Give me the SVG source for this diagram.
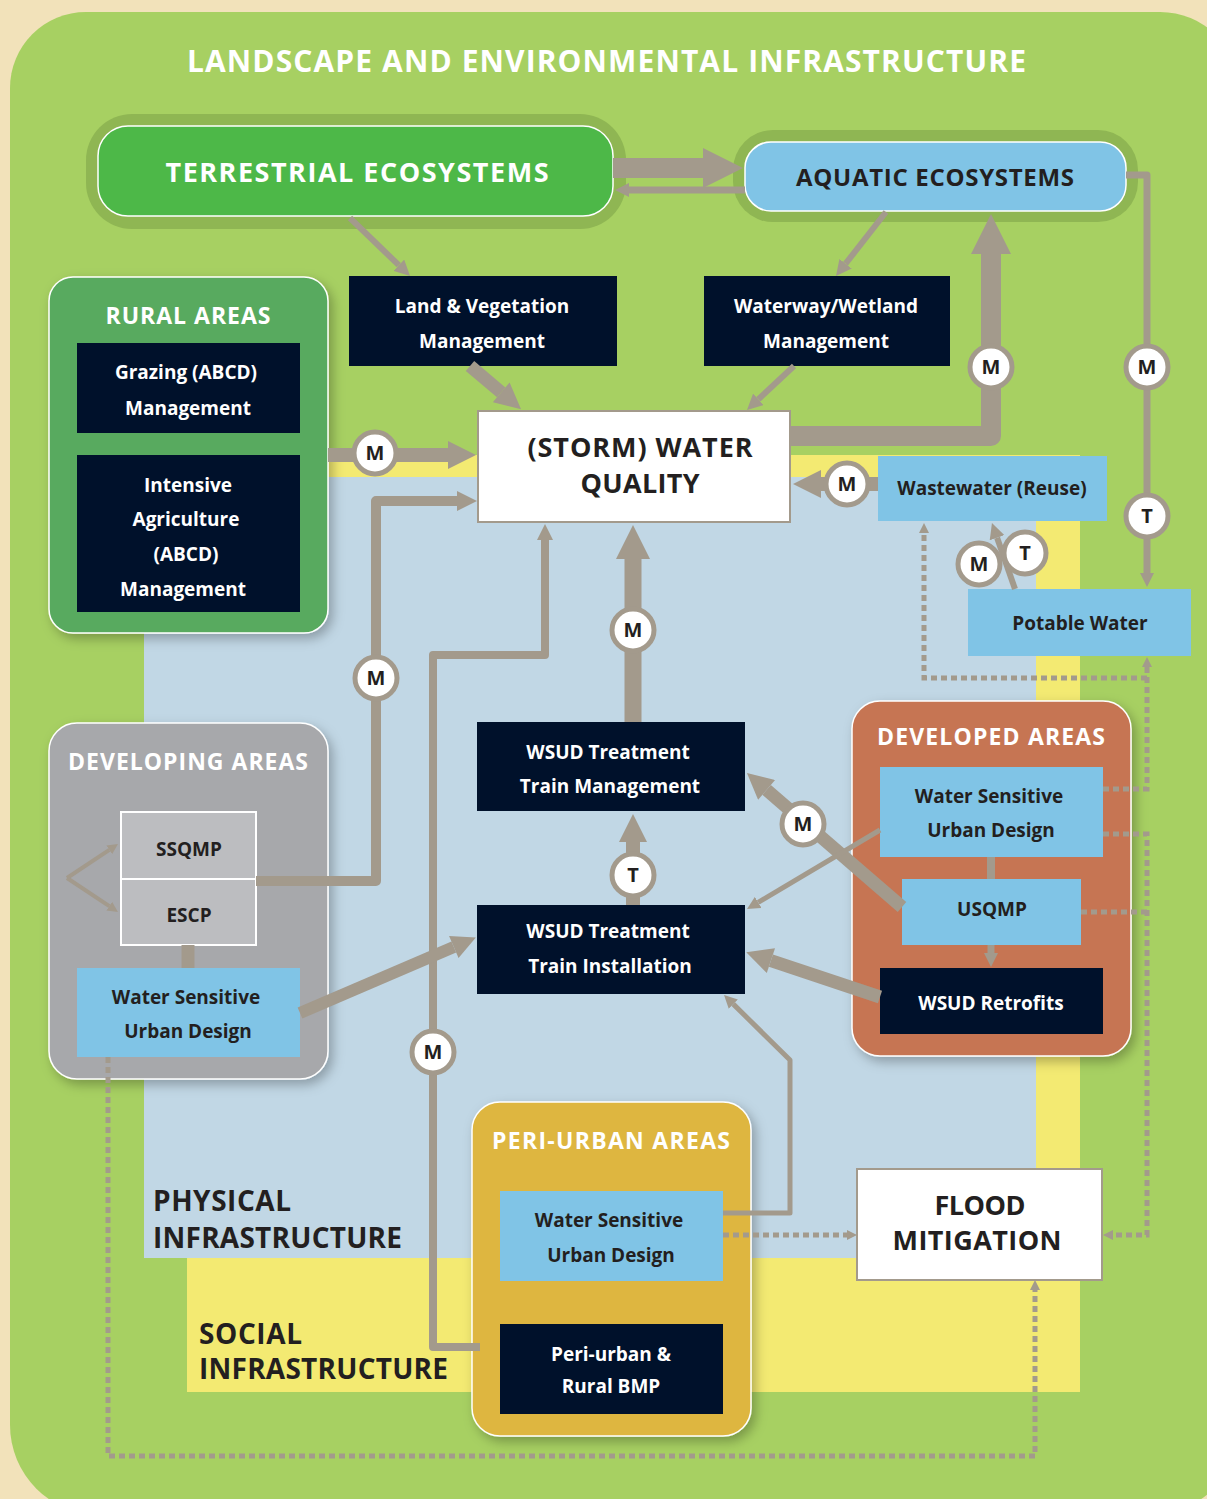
<svg xmlns="http://www.w3.org/2000/svg" width="1207" height="1499" viewBox="0 0 1207 1499">
<defs>
<style>
.conn{fill:none;stroke:#A39A8C;stroke-linejoin:round}
.dot{fill:none;stroke:#A39A8C;stroke-width:5;stroke-dasharray:6 4}
.nav{fill:#00112B}
.lb{fill:#80C4E6}
.t{font-family:"Open Sans","Liberation Sans",sans-serif;font-weight:700;text-anchor:middle}
.w{fill:#FFFFFF}
.d{fill:#231F20}
.lbl{font-size:19px}
.hd{font-size:23px}
.big{font-size:27px}
.badge circle{fill:#FFFFFF;stroke:#A39A8C;stroke-width:5}
.badge text{font-family:"Open Sans","Liberation Sans",sans-serif;font-weight:700;font-size:20px;fill:#231F20;text-anchor:middle}
.panel{stroke:#FFFFFF;stroke-width:1.5}
</style>
<marker id="ab" viewBox="0 0 10 10" refX="0" refY="5" markerWidth="2.1" markerHeight="2" orient="auto" markerUnits="strokeWidth"><path d="M0,0L10,5L0,10z" fill="#A39A8C"/></marker>
<marker id="as" viewBox="0 0 10 10" refX="0" refY="5" markerWidth="2.6" markerHeight="2.6" orient="auto" markerUnits="strokeWidth"><path d="M0,0L10,5L0,10z" fill="#A39A8C"/></marker>
<marker id="ad" viewBox="0 0 10 10" refX="0" refY="5" markerWidth="2" markerHeight="2.4" orient="auto" markerUnits="strokeWidth"><path d="M0,0L10,5L0,10z" fill="#A39A8C"/></marker>
<filter id="sh" x="-10%" y="-10%" width="130%" height="130%"><feDropShadow dx="4" dy="5" stdDeviation="6" flood-color="#000" flood-opacity="0.28"/></filter>
</defs>

<rect x="0" y="0" width="1207" height="1499" fill="#F2E2BA"/>
<path d="M10,88 A76,76 0 0 1 86,12 H1160 A80,80 0 0 1 1240,92 V1425 A90,90 0 0 1 1150,1515 H100 A90,90 0 0 1 10,1425 Z" fill="#A7D062"/>
<rect x="187" y="455" width="893" height="937" fill="#F3EA72"/>
<rect x="144" y="477" width="892" height="781" fill="#C1D7E5"/>

<text class="t w" x="187" y="72" font-size="30" style="text-anchor:start" textLength="839" lengthAdjust="spacing">LANDSCAPE AND ENVIRONMENTAL INFRASTRUCTURE</text>

<g id="physical-label">
<text class="t d" x="153" y="1211" font-size="28" style="text-anchor:start" textLength="138" lengthAdjust="spacing">PHYSICAL</text>
<text class="t d" x="153" y="1248" font-size="28" style="text-anchor:start" textLength="249" lengthAdjust="spacing">INFRASTRUCTURE</text>
</g>
<g id="social-label">
<text class="t d" x="199" y="1344" font-size="28" style="text-anchor:start" textLength="103" lengthAdjust="spacing">SOCIAL</text>
<text class="t d" x="199" y="1379" font-size="28" style="text-anchor:start" textLength="249" lengthAdjust="spacing">INFRASTRUCTURE</text>
</g>

<g id="terrestrial">
<rect x="86" y="114" width="540" height="115" rx="46" fill="#8FB653"/>
<rect x="98" y="126" width="515" height="90" rx="30" fill="#4DB848" stroke="#FFFFFF" stroke-width="1.5"/>
<text class="t w big" x="357" y="182" textLength="383" lengthAdjust="spacing">TERRESTRIAL ECOSYSTEMS</text>
</g>
<g id="aquatic">
<rect x="733" y="130" width="405" height="92" rx="40" fill="#8FB653"/>
<rect x="745" y="142" width="381" height="69" rx="26" fill="#80C4E6" stroke="#FFFFFF" stroke-width="1.5"/>
<text class="t d" x="935" y="186" font-size="24" textLength="278" lengthAdjust="spacing">AQUATIC ECOSYSTEMS</text>
</g>

<g id="land-veg">
<rect class="nav" x="349" y="276" width="268" height="90"/>
<text class="t w lbl" x="482" y="313">Land &amp; Vegetation</text>
<text class="t w lbl" x="482" y="348">Management</text>
</g>
<g id="waterway">
<rect class="nav" x="704" y="276" width="246" height="90"/>
<text class="t w lbl" x="826" y="313">Waterway/Wetland</text>
<text class="t w lbl" x="826" y="348">Management</text>
</g>

<g id="storm-water-quality">
<rect x="478" y="411" width="312" height="111" fill="#FFFFFF" stroke="#A39A8C" stroke-width="2"/>
<text class="t d big" x="640" y="457" textLength="225" lengthAdjust="spacing">(STORM) WATER</text>
<text class="t d big" x="640" y="493" textLength="119" lengthAdjust="spacing">QUALITY</text>
</g>

<g id="rural-areas">
<rect class="panel" x="49" y="277" width="279" height="356" rx="24" fill="#59AA5F" filter="url(#sh)"/>
<text class="t w hd" x="188" y="324" textLength="165" lengthAdjust="spacing">RURAL AREAS</text>
<rect class="nav" x="77" y="343" width="223" height="90"/>
<text class="t w lbl" x="186" y="379">Grazing (ABCD)</text>
<text class="t w lbl" x="188" y="415">Management</text>
<rect class="nav" x="77" y="455" width="223" height="157"/>
<text class="t w lbl" x="188" y="492">Intensive</text>
<text class="t w lbl" x="186" y="526">Agriculture</text>
<text class="t w lbl" x="186" y="561">(ABCD)</text>
<text class="t w lbl" x="183" y="596">Management</text>
</g>

<g id="wastewater">
<rect class="lb" x="878" y="456" width="229" height="65"/>
<text class="t d lbl" x="992" y="495">Wastewater (Reuse)</text>
</g>
<g id="potable">
<rect class="lb" x="968" y="589" width="223" height="67"/>
<text class="t d lbl" x="1080" y="630">Potable Water</text>
</g>

<g id="wsud-management">
<rect class="nav" x="477" y="722" width="268" height="89"/>
<text class="t w lbl" x="608" y="759">WSUD Treatment</text>
<text class="t w lbl" x="610" y="793">Train Management</text>
</g>
<g id="wsud-installation">
<rect class="nav" x="477" y="905" width="268" height="89"/>
<text class="t w lbl" x="608" y="938">WSUD Treatment</text>
<text class="t w lbl" x="610" y="973">Train Installation</text>
</g>

<g id="developing-areas">
<rect class="panel" x="49" y="723" width="279" height="356" rx="28" fill="#A7A8AB" filter="url(#sh)"/>
<text class="t w hd" x="188" y="770" textLength="240" lengthAdjust="spacing">DEVELOPING AREAS</text>
<rect x="121" y="812" width="135" height="67" fill="#BCBDC0" stroke="#FFFFFF" stroke-width="2"/>
<text class="t d lbl" x="189" y="856">SSQMP</text>
<rect x="121" y="879" width="135" height="66" fill="#BCBDC0" stroke="#FFFFFF" stroke-width="2"/>
<text class="t d lbl" x="189" y="922">ESCP</text>
<rect class="lb" x="77" y="968" width="223" height="89"/>
<text class="t d lbl" x="186" y="1004">Water Sensitive</text>
<text class="t d lbl" x="188" y="1038">Urban Design</text>
</g>

<g id="developed-areas">
<rect class="panel" x="852" y="701" width="279" height="355" rx="28" fill="#C67553" filter="url(#sh)"/>
<text class="t w hd" x="991" y="745" textLength="228" lengthAdjust="spacing">DEVELOPED AREAS</text>
<rect class="lb" x="880" y="767" width="223" height="90"/>
<text class="t d lbl" x="989" y="803">Water Sensitive</text>
<text class="t d lbl" x="991" y="837">Urban Design</text>
<rect class="lb" x="902" y="879" width="179" height="66"/>
<text class="t d lbl" x="992" y="916">USQMP</text>
<rect class="nav" x="880" y="968" width="223" height="66"/>
<text class="t w lbl" x="991" y="1010">WSUD Retrofits</text>
</g>

<g id="peri-urban-areas">
<rect class="panel" x="472" y="1102" width="279" height="334" rx="28" fill="#DEB63F" filter="url(#sh)"/>
<text class="t w hd" x="611" y="1149" textLength="238" lengthAdjust="spacing">PERI-URBAN AREAS</text>
<rect class="lb" x="500" y="1191" width="223" height="90"/>
<text class="t d lbl" x="609" y="1227">Water Sensitive</text>
<text class="t d lbl" x="611" y="1262">Urban Design</text>
<rect class="nav" x="500" y="1324" width="223" height="90"/>
<text class="t w lbl" x="611" y="1361">Peri-urban &amp;</text>
<text class="t w lbl" x="611" y="1393">Rural BMP</text>
</g>

<g id="flood-mitigation">
<rect x="857" y="1169" width="245" height="111" fill="#FFFFFF" stroke="#A39A8C" stroke-width="2"/>
<text class="t d big" x="980" y="1215" textLength="91" lengthAdjust="spacing">FLOOD</text>
<text class="t d big" x="977" y="1250" textLength="169" lengthAdjust="spacing">MITIGATION</text>
</g>

<g id="connectors">
<path class="conn" stroke-width="20" d="M613,168 H703" marker-end="url(#ab)"/>
<path class="conn" stroke-width="7" d="M745,190 H629" marker-end="url(#ab)"/>
<path class="conn" stroke-width="6" d="M350,218 L398.8,265.2" marker-end="url(#as)"/>
<path class="conn" stroke-width="13" d="M470,366 L501.2,392.4" marker-end="url(#ab)"/>
<path class="conn" stroke-width="6" d="M886,212 L845.6,263.7" marker-end="url(#as)"/>
<path class="conn" stroke-width="6" d="M794,366 L758.4,399.3" marker-end="url(#as)"/>
<path class="conn" stroke-width="20" d="M790,436 H991 V254" marker-end="url(#ab)"/>
<path class="conn" stroke-width="7" d="M1126,175 H1147 V573" marker-end="url(#ab)"/>
<path class="conn" stroke-width="14" d="M328,455 H448" marker-end="url(#ab)"/>
<path class="conn" stroke-width="10" d="M256,881 H376 V501 H457" marker-end="url(#ab)"/>
<path class="conn" stroke-width="8" d="M480,1347 H433 V655 H545 V540" marker-end="url(#ab)"/>
<path class="conn" stroke-width="17" d="M633,722 V559" marker-end="url(#ab)"/>
<path class="conn" stroke-width="14" d="M633,905 V842" marker-end="url(#ab)"/>
<path class="conn" stroke-width="13" d="M902,907 L766.6,789.9" marker-end="url(#ab)"/>
<path class="conn" stroke-width="5" d="M880,830 L758.2,902.4" marker-end="url(#as)"/>
<path class="conn" stroke-width="13" d="M880,997 L770.9,960.6" marker-end="url(#ab)"/>
<path class="conn" stroke-width="5" d="M723,1213 H790 V1060 L733.3,1004.1" marker-end="url(#as)"/>
<path class="conn" stroke-width="8" d="M991,857 V879"/>
<path class="conn" stroke-width="7" d="M991,945 V953" marker-end="url(#ab)"/>
<path class="conn" stroke-width="13" d="M188,945 V968"/>
<path class="conn" stroke-width="4" d="M67,878 L109.3,849.8" marker-end="url(#as)"/>
<path class="conn" stroke-width="4" d="M67,878 L109.3,906.2" marker-end="url(#as)"/>
<path class="conn" stroke-width="12" d="M300,1013 L453.8,947" marker-end="url(#ab)"/>
<path class="conn" stroke-width="14" d="M878,484 H821" marker-end="url(#ab)"/>
<path class="conn" stroke-width="6" d="M1015,589 L997.1,537.7" marker-end="url(#as)"/>

<path class="dot" d="M108,1057 V1456 H1035 V1290" marker-end="url(#ad)"/>
<path class="dot" d="M723,1235 H847" marker-end="url(#ad)"/>
<path class="dot" d="M1103,789 H1147 V667" marker-end="url(#ad)"/>
<path class="dot" d="M1147,678 H924 V533" marker-end="url(#ad)"/>
<path class="dot" d="M1103,834 H1147 V1235 H1113" marker-end="url(#ad)"/>
<path class="dot" d="M1081,912 H1147"/>

<g class="badge"><circle cx="375" cy="453" r="21"/><text x="375" y="460">M</text></g>
<g class="badge"><circle cx="376" cy="678" r="21"/><text x="376" y="685">M</text></g>
<g class="badge"><circle cx="433" cy="1052" r="21"/><text x="433" y="1059">M</text></g>
<g class="badge"><circle cx="633" cy="630" r="21"/><text x="633" y="637">M</text></g>
<g class="badge"><circle cx="633" cy="875" r="21"/><text x="633" y="882">T</text></g>
<g class="badge"><circle cx="803" cy="824" r="21"/><text x="803" y="831">M</text></g>
<g class="badge"><circle cx="847" cy="484" r="21"/><text x="847" y="491">M</text></g>
<g class="badge"><circle cx="991" cy="367" r="21"/><text x="991" y="374">M</text></g>
<g class="badge"><circle cx="1147" cy="367" r="21"/><text x="1147" y="374">M</text></g>
<g class="badge"><circle cx="1147" cy="516" r="21"/><text x="1147" y="523">T</text></g>
<g class="badge"><circle cx="979" cy="564" r="21"/><text x="979" y="571">M</text></g>
<g class="badge"><circle cx="1025" cy="553" r="21"/><text x="1025" y="560">T</text></g>
</g>
</svg>
